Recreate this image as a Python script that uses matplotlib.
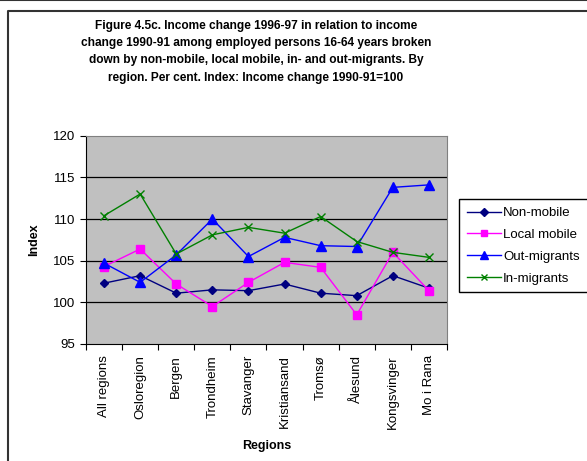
import matplotlib
matplotlib.use('Agg')
import matplotlib.pyplot as plt
from matplotlib.lines import Line2D

plt.rcParams['font.family'] = ['Liberation Sans', 'DejaVu Sans']

#---- Data
regions = ['All regions', 'Osloregion', 'Bergen', 'Trondheim', 'Stavanger',
           'Kristiansand', 'Tromsø', 'Ålesund', 'Kongsvinger', 'Mo i Rana']
non_mobile = [102.3, 103.2, 101.1, 101.5, 101.4, 102.2, 101.1, 100.8, 103.2, 101.7]
local_mobile = [104.3, 106.4, 102.2, 99.5, 102.4, 104.8, 104.2, 98.5, 106.0, 101.4]
out_migrants = [104.7, 102.4, 105.7, 110.0, 105.5, 107.8, 106.8, 106.7, 113.8, 114.1]
in_migrants = [110.4, 113.0, 105.8, 108.1, 109.0, 108.3, 110.3, 107.3, 106.0, 105.4]
yticks = [95, 100, 105, 110, 115, 120]

title = ('Figure 4.5c. Income change 1996-97 in relation to income\n'
         'change 1990-91 among employed persons 16-64 years broken\n'
         'down by non-mobile, local mobile, in- and out-migrants. By\n'
         'region. Per cent. Index: Income change 1990-91=100')

fig = plt.figure(figsize=(5.87, 4.61), dpi=100)
ax = fig.add_axes([0.1465, 0.2538, 0.615, 0.4518])
ax.set_facecolor('#C0C0C0')

x = range(len(regions))
ax.plot(x, non_mobile, color='#000080', marker='D', ms=4.5, lw=1, label='Non-mobile')
ax.plot(x, local_mobile, color='#FF00FF', marker='s', ms=6, lw=1, label='Local mobile')
ax.plot(x, out_migrants, color='#0000FF', marker='^', ms=7, lw=1, label='Out-migrants')
ax.plot(x, in_migrants, color='#008000', marker='x', ms=6, mew=1, lw=1, label='In-migrants')

ax.set_xlim(-0.5, len(regions) - 0.5)
ax.set_ylim(95, 120)
ax.set_yticks(yticks)
ax.set_yticklabels([str(v) for v in yticks], fontsize=9.5)
for v in yticks[1:-1]:
    ax.axhline(v, color='black', lw=0.9, zorder=1)

ax.set_xticks(list(x))
ax.set_xticklabels(regions, rotation=90, fontsize=9.5)
ax.set_xticks([i - 0.5 for i in range(len(regions) + 1)], minor=True)
ax.tick_params(axis='x', which='major', length=0, pad=8)
ax.tick_params(axis='x', which='minor', length=4, direction='out', width=0.8)
ax.tick_params(axis='y', length=4, direction='out', width=0.8, pad=4)

for s in ['top', 'right']:
    ax.spines[s].set_color('#808080')
for s in ['left', 'bottom']:
    ax.spines[s].set_color('black')

ax.set_xlabel('Regions', fontsize=9, fontweight='bold', labelpad=8)
ax.set_ylabel('Index', fontsize=9, fontweight='bold', labelpad=9)

fig.text(0.436, 0.888, title, ha='center', va='center', fontsize=8.6,
         fontweight='bold', linespacing=1.6)

fig.legend(loc='upper left', bbox_to_anchor=(0.782, 0.568), fontsize=9.5,
           frameon=True, fancybox=False, edgecolor='black', framealpha=1,
           handlelength=2.6, labelspacing=0.72, borderpad=0.6,
           handletextpad=0.15, borderaxespad=0, markerscale=0.8)

#---- Outer chart frame
fig.add_artist(Line2D([0, 1], [0.999, 0.999], color='#333333', lw=1.5, transform=fig.transFigure))
fig.add_artist(Line2D([8 / 587, 8 / 587, 1], [0, 1 - 11 / 461, 1 - 11 / 461],
                      color='#333333', lw=1.5, transform=fig.transFigure))

fig.savefig('out.png', dpi=100)
